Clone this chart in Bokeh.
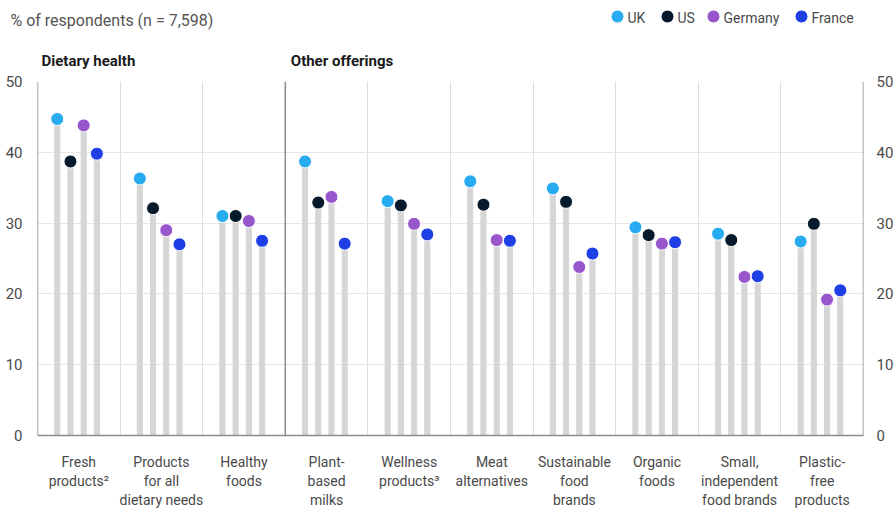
import numpy as np
from bokeh.plotting import figure
from bokeh.layouts import column
from bokeh.models import LinearAxis, FixedTicker, Label, ColumnDataSource
from bokeh.core.properties import value
from bokeh.embed import file_html
from bokeh.resources import INLINE

# Share of respondents citing each offering, by country (%)
categories = ["Fresh\nproducts\u00b2", "Products\nfor all\ndietary needs", "Healthy\nfoods",
              "Plant-\nbased\nmilks", "Wellness\nproducts\u00b3", "Meat\nalternatives",
              "Sustainable\nfood\nbrands", "Organic\nfoods", "Small,\nindependent\nfood brands",
              "Plastic-\nfree\nproducts"]
uk = [44.7, 36.3, 31.0, 38.7, 33.1, 35.9, 34.9, 29.4, 28.5, 27.4]
us = [38.7, 32.1, 31.0, 32.9, 32.5, 32.6, 33.0, 28.3, 27.6, 29.9]
germany = [43.8, 29.0, 30.3, 33.7, 29.9, 27.6, 23.8, 27.1, 22.4, 19.2]
france = [39.8, 27.0, 27.5, 27.1, 28.4, 27.5, 25.7, 27.3, 22.5, 20.5]
countries = ["UK", "US", "Germany", "France"]
y_ticks = [0, 10, 20, 30, 40, 50]
groups = ["Dietary health", "Other offerings"]
group_starts = [0, 3]
subtitle = "% of respondents (n = 7,598)"

colors = ["#29abf2", "#061a2b", "#9856cd", "#1e3ee6"]
offsets = [-0.261, -0.101, 0.059, 0.219]
FONT = "Roboto"
TEXT = "#4a4a4a"

W = 896
HEAD_H = 70
BORDER_L, BORDER_R = 37, 28
n = len(categories)
px_per_cat = (W - BORDER_L - BORDER_R) / n
centers = np.arange(n) + 0.5

# ---------------- main chart ----------------
p = figure(width=W, height=510 - HEAD_H, x_range=(0, n), y_range=(0, 50),
           output_backend="svg", toolbar_location=None,
           min_border_left=BORDER_L, min_border_right=BORDER_R,
           min_border_top=81 - HEAD_H, min_border_bottom=75)
p.outline_line_color = None

# bottom category axis
p.xaxis.ticker = FixedTicker(ticks=list(centers))
p.xaxis.major_label_overrides = {float(c): lab for c, lab in zip(centers, categories)}
p.xaxis.major_tick_line_color = None
p.xaxis.minor_tick_line_color = None
p.xaxis.axis_line_color = "#8c8c8c"
p.xaxis.axis_line_width = 1.5
p.xaxis.major_label_standoff = 12
p.xaxis.major_label_text_font = FONT
p.xaxis.major_label_text_font_size = "14px"
p.xaxis.major_label_text_color = TEXT

# value axes on both sides
def style_y(ax, standoff):
    ax.ticker = FixedTicker(ticks=y_ticks)
    ax.axis_line_color = None
    ax.major_tick_line_color = None
    ax.minor_tick_line_color = None
    ax.major_label_standoff = standoff
    ax.major_label_text_font = FONT
    ax.major_label_text_font_size = "15px"
    ax.major_label_text_color = TEXT

style_y(p.yaxis[0], 9)
right_axis = LinearAxis()
style_y(right_axis, 7)
p.add_layout(right_axis, "right")

# grids: horizontal lines, light category dividers, heavier frame/group dividers
p.xgrid.ticker = FixedTicker(ticks=[b for b in range(1, n) if b not in group_starts])
p.xgrid.grid_line_color = "#dedede"
p.ygrid.ticker = FixedTicker(ticks=y_ticks[1:])
p.ygrid.grid_line_color = "#e6e6e6"
heavy_b = [0, n] + group_starts[1:]
p.segment(x0=heavy_b, x1=heavy_b, y0=0, y1=y_ticks[-1], line_color="#8c8c8c", line_width=1.5)

# lollipops
series = [uk, us, germany, france]
for vals, col, off in zip(series, colors, offsets):
    src = ColumnDataSource(dict(x=centers + off, v=vals))
    p.vbar(x="x", top="v", width=0.062, source=src, color="#d6d6d6")
    p.scatter(x="x", y="v", size=13, source=src, fill_color=col,
              line_color="white", line_width=1)

# ---------------- header strip (subtitle, key, group titles), pixel coordinates ----------------
head = figure(width=W, height=HEAD_H, x_range=(0, W), y_range=(HEAD_H, 0),
              x_axis_type=None, y_axis_type=None,
              output_backend="svg", toolbar_location=None,
              min_border_left=0, min_border_right=0, min_border_top=0, min_border_bottom=0)
head.frame_align = False
head.outline_line_color = None
head.grid.visible = False

# colour key
key_x = [617, 667, 713, 801]
key_y = 16
head.scatter(x=key_x, y=[key_y] * len(key_x), size=13, fill_color=colors,
             line_color="white", line_width=1)
head.text(x=[k + 10 for k in key_x], y=[key_y + 1] * len(key_x), text=countries,
          text_font=value(FONT), text_font_size="14px", text_color=TEXT,
          text_baseline="middle", text_align="left")

head.add_layout(Label(x=10, y=20, text=subtitle, text_baseline="middle",
                      text_font=FONT, text_font_size="16px", text_color="#555555"))
for g, start in zip(groups, group_starts):
    head.add_layout(Label(x=BORDER_L + start * px_per_cat + 4, y=60, text=g,
                          text_baseline="middle", text_font=FONT, text_font_size="15px",
                          text_font_style="bold", text_color="#1a1a1a"))

layout = column(head, p, spacing=0)
open("out.html", "w").write(file_html(layout, INLINE))
